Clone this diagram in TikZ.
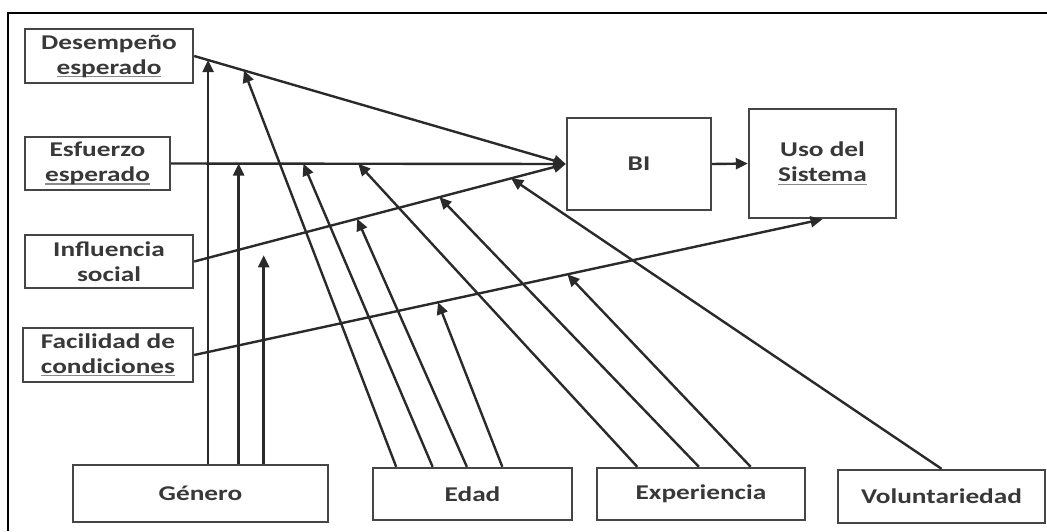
\documentclass[tikz,border=0pt]{standalone}
\usepackage{fontspec}
\setmainfont{Carlito}[FakeStretch=1.3]
\usetikzlibrary{arrows.meta,calc}

\definecolor{boxgray}{HTML}{454545}
\definecolor{linegray}{HTML}{2A2A2A}
\definecolor{textgray}{HTML}{383838}
\definecolor{markgray}{HTML}{8A8A8A}

% thin grey mark under a word
\newlength\markwd
\newcommand\spellmark[1]{\settowidth\markwd{#1}\rlap{\textcolor{markgray}{\rule[-3pt]{\markwd}{1.2pt}}}#1}

\begin{document}
\begin{tikzpicture}[x=1pt,y=-1pt,
  box/.style={draw=boxgray,line width=2.4pt,inner sep=0pt,align=center,
    text=textgray,font=\fontsize{21}{25}\selectfont\bfseries},
  link/.style={draw=linegray,line width=2.4pt},
  arr/.style={link,-{Triangle[length=12pt,width=11pt]}},
]
\useasboundingbox (0,0) rectangle (1047,531);

% frame
\draw[line width=2.2pt,black] (8,531) -- (8,13) -- (1047,13);

% constructs
\node[box,minimum width=168,minimum height=54] (des) at (109,56) {Desempeño\\\spellmark{esperado}};
\node[box,minimum width=145,minimum height=53] (esf) at (97.5,163.5) {Esfuerzo\\\spellmark{esperado}};
\node[box,minimum width=168,minimum height=53] (inf) at (109,261.5) {Influencia\\social};
\node[box,minimum width=170,minimum height=54] (fac) at (108,355) {Facilidad de\\\spellmark{condiciones}};
\node[box,minimum width=144,minimum height=92] (bi)  at (639,164) {BI};
\node[box,minimum width=147,minimum height=109] (uso) at (822.5,163.5) {Uso del\\\spellmark{Sistema}};

% moderators
\node[box,minimum width=255,minimum height=57] (gen) at (200.5,493.5) {Género};
\node[box,minimum width=199,minimum height=52] (eda) at (472.5,494) {Edad};
\node[box,minimum width=208,minimum height=52] (exp) at (701,494) {Experiencia};
\node[box,minimum width=207,minimum height=53] (vol) at (941.5,496.5) {Voluntariedad};

% main paths
\draw[arr] (des.east) -- (bi.west);
\draw[arr] (esf.east) -- (bi.west);
\draw[arr] (inf.east) -- (bi.west);
\draw[arr] (bi.east) -- (uso.west);
\draw[arr] (fac.east) -- (uso.south);

% moderation points on the main paths
\coordinate (d1) at ($(des.east)!0.0374!(bi.west)$);
\coordinate (d2) at ($(des.east)!0.134!(bi.west)$);
\coordinate (e1) at ($(esf.east)!0.171!(bi.west)$);
\coordinate (e2) at ($(esf.east)!0.335!(bi.west)$);
\coordinate (e3) at ($(esf.east)!0.474!(bi.west)$);
\coordinate (i1) at ($(inf.east)!0.187!(bi.west)$);
\coordinate (i2) at ($(inf.east)!0.4385!(bi.west)$);
\coordinate (i3) at ($(inf.east)!0.660!(bi.west)$);
\coordinate (i4) at ($(inf.east)!0.853!(bi.west)$);
\coordinate (f1) at ($(fac.east)!0.388!(uso.south)$);
\coordinate (f2) at ($(fac.east)!0.594!(uso.south)$);

% Género
\draw[arr] (d1 |- gen.north) -- (d1);
\draw[arr] (e1 |- gen.north) -- (e1);
\draw[arr,shorten >=12pt] (i1 |- gen.north) -- (i1);

% Edad
\draw[arr] ($(eda.north west)!0.121!(eda.north east)$) -- (d2);
\draw[arr] ($(eda.north west)!0.302!(eda.north east)$) -- (e2);
\draw[arr] ($(eda.north west)!0.472!(eda.north east)$) -- (i2);
\draw[arr] ($(eda.north west)!0.648!(eda.north east)$) -- (f1);

% Experiencia
\draw[arr] ($(exp.north west)!0.197!(exp.north east)$) -- (e3);
\draw[arr] ($(exp.north west)!0.490!(exp.north east)$) -- (i3);
\draw[arr] ($(exp.north west)!0.736!(exp.north east)$) -- (f2);

% Voluntariedad
\draw[arr] (vol.north) -- (i4);
\end{tikzpicture}
\end{document}
